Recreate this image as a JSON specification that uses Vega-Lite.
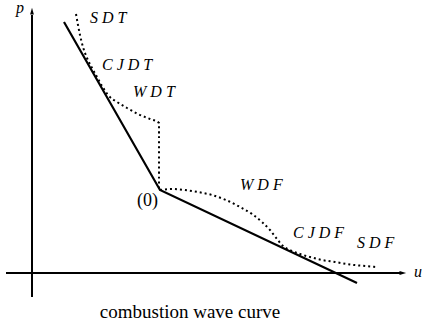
{
  "$schema": "https://vega.github.io/schema/vega-lite/v6.json",
  "width": 424,
  "height": 327,
  "autosize": {"type": "fit", "contains": "padding"},
  "padding": 0,
  "config": {"view": {"stroke": null}},
  "datasets": {
    "axes": [
      {"u": -26, "p": 0, "u2": 368, "p2": 0},
      {"u": 0, "p": -24, "u2": 0, "p2": 258}
    ],
    "heads": [
      {"dir": "up", "u": 0, "p": 261},
      {"dir": "right", "u": 370, "p": 0}
    ],
    "hugoniot": [
      {"i": 0, "u": 32, "p": 251},
      {"i": 1, "u": 128, "p": 83},
      {"i": 2, "u": 325, "p": -10}
    ],
    "waves": [
      {"branch": "T", "i": 0, "u": 44, "p": 259},
      {"branch": "T", "i": 1, "u": 46, "p": 248},
      {"branch": "T", "i": 2, "u": 48, "p": 238},
      {"branch": "T", "i": 3, "u": 51, "p": 226},
      {"branch": "T", "i": 4, "u": 55, "p": 215},
      {"branch": "T", "i": 5, "u": 60, "p": 205},
      {"branch": "T", "i": 6, "u": 65, "p": 196},
      {"branch": "T", "i": 7, "u": 70, "p": 187},
      {"branch": "T", "i": 8, "u": 76, "p": 178},
      {"branch": "T", "i": 9, "u": 85, "p": 171},
      {"branch": "T", "i": 10, "u": 95, "p": 165},
      {"branch": "T", "i": 11, "u": 106, "p": 159},
      {"branch": "T", "i": 12, "u": 118, "p": 154},
      {"branch": "T", "i": 13, "u": 127, "p": 150},
      {"branch": "T", "i": 14, "u": 127, "p": 83},
      {"branch": "F", "i": 0, "u": 128, "p": 83},
      {"branch": "F", "i": 1, "u": 140, "p": 84},
      {"branch": "F", "i": 2, "u": 153, "p": 83},
      {"branch": "F", "i": 3, "u": 166, "p": 81},
      {"branch": "F", "i": 4, "u": 180, "p": 78},
      {"branch": "F", "i": 5, "u": 194, "p": 73},
      {"branch": "F", "i": 6, "u": 208, "p": 66},
      {"branch": "F", "i": 7, "u": 220, "p": 59},
      {"branch": "F", "i": 8, "u": 230, "p": 51},
      {"branch": "F", "i": 9, "u": 238, "p": 43},
      {"branch": "F", "i": 10, "u": 245, "p": 34},
      {"branch": "F", "i": 11, "u": 251, "p": 27},
      {"branch": "F", "i": 12, "u": 258, "p": 23},
      {"branch": "F", "i": 13, "u": 268, "p": 19},
      {"branch": "F", "i": 14, "u": 278, "p": 16},
      {"branch": "F", "i": 15, "u": 290, "p": 13},
      {"branch": "F", "i": 16, "u": 303, "p": 11},
      {"branch": "F", "i": 17, "u": 318, "p": 8.5},
      {"branch": "F", "i": 18, "u": 333, "p": 7},
      {"branch": "F", "i": 19, "u": 344, "p": 6}
    ],
    "mathLabels": [
      {"label": "S D T", "u": 58, "p": 250},
      {"label": "C J D T", "u": 70, "p": 203},
      {"label": "W D T", "u": 101, "p": 176},
      {"label": "W D F", "u": 208, "p": 83},
      {"label": "C J D F", "u": 261, "p": 35},
      {"label": "S D F", "u": 325, "p": 25},
      {"label": "p", "u": -16, "p": 260},
      {"label": "u", "u": 382, "p": -4}
    ]
  },
  "encoding": {
    "x": {"field": "u", "type": "quantitative", "axis": null, "scale": {"domain": [-32, 392], "nice": false, "zero": false}},
    "y": {"field": "p", "type": "quantitative", "axis": null, "scale": {"domain": [-54, 273], "nice": false, "zero": false}}
  },
  "layer": [
    {
      "data": {"name": "axes"},
      "mark": {"type": "rule", "color": "#000", "strokeWidth": 2},
      "encoding": {"x2": {"field": "u2"}, "y2": {"field": "p2"}}
    },
    {
      "data": {"name": "heads"},
      "transform": [{"filter": "datum.dir === 'up'"}],
      "mark": {"type": "point", "filled": true, "color": "#000", "opacity": 1, "size": 70, "shape": "M0,-1L0.45,0.6L-0.45,0.6Z"}
    },
    {
      "data": {"name": "heads"},
      "transform": [{"filter": "datum.dir === 'right'"}],
      "mark": {"type": "point", "filled": true, "color": "#000", "opacity": 1, "size": 70, "shape": "M1,0L-0.6,0.45L-0.6,-0.45Z"}
    },
    {
      "data": {"name": "hugoniot"},
      "mark": {"type": "line", "color": "#000", "strokeWidth": 2.2},
      "encoding": {"order": {"field": "i", "type": "quantitative"}}
    },
    {
      "data": {"name": "waves"},
      "mark": {"type": "line", "color": "#000", "strokeWidth": 2, "strokeDash": [2, 3], "interpolate": "monotone"},
      "encoding": {
        "detail": {"field": "branch", "type": "nominal"},
        "order": {"field": "i", "type": "quantitative"}
      }
    },
    {
      "data": {"name": "mathLabels"},
      "mark": {"type": "text", "font": "Liberation Serif", "fontStyle": "italic", "fontSize": 16, "align": "left", "baseline": "alphabetic"},
      "encoding": {"text": {"field": "label"}}
    },
    {
      "data": {"values": [{"label": "(0)", "u": 105, "p": 72}]},
      "mark": {"type": "text", "font": "Liberation Serif", "fontSize": 18, "align": "left"},
      "encoding": {"text": {"field": "label"}}
    },
    {
      "data": {"values": [{"label": "combustion wave curve", "u": 158, "p": -39}]},
      "mark": {"type": "text", "font": "Liberation Serif", "fontSize": 19, "align": "center"},
      "encoding": {"text": {"field": "label"}}
    }
  ]
}
